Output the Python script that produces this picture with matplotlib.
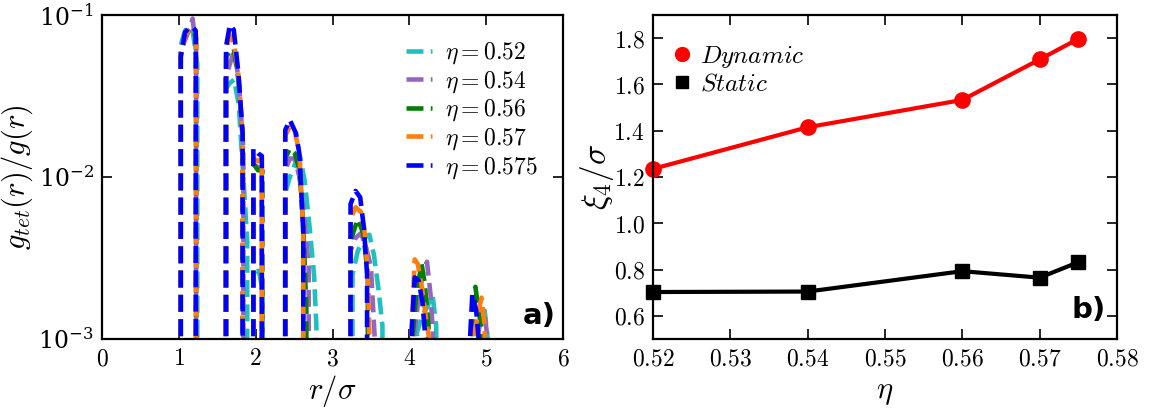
import matplotlib
matplotlib.use("Agg")
import matplotlib.pyplot as plt
from matplotlib.ticker import FixedLocator, FuncFormatter
from matplotlib.lines import Line2D

plt.rcParams['mathtext.fontset'] = 'cm'
plt.rcParams['font.family'] = ['DejaVu Serif']

# ---------------- panel a) data : g_tet(r)/g(r) ----------------
labels_a = [r'$\eta = 0.52$', r'$\eta = 0.54$', r'$\eta = 0.56$', r'$\eta = 0.57$', r'$\eta = 0.575$']
colors_a = ['#1fc0c0', '#9467bd', 'green', '#ff7f0e', 'blue']

r_052 = [1.02, 1.025, 1.08, 1.13, 1.18, 1.24, 1.245,
         1.60, 1.605, 1.665, 1.72, 1.78, 1.84, 1.89, 1.90,
         1.965, 1.97, 2.03, 2.09, 2.10,
         2.38, 2.385, 2.445, 2.51, 2.58, 2.64, 2.70, 2.76, 2.79, 2.80,
         3.255, 3.26, 3.33, 3.41, 3.48, 3.54, 3.60, 3.65, 3.66,
         4.095, 4.10, 4.17, 4.24, 4.30, 4.35, 4.36,
         4.875, 4.88, 4.93, 4.98, 5.02, 5.03]
g_052 = [0, 0.065, 0.080, 0.085, 0.080, 0.050, 0,
         0, 0.035, 0.038, 0.040, 0.028, 0.010, 0.004, 0,
         0, 0.0025, 0.0028, 0.0020, 0,
         0, 0.0080, 0.0100, 0.0120, 0.0133, 0.0093, 0.0050, 0.0025, 0.0012, 0,
         0, 0.0025, 0.0035, 0.0042, 0.0044, 0.0033, 0.0020, 0.0012, 0,
         0, 0.0011, 0.0014, 0.0016, 0.0019, 0.0012, 0,
         0, 0.0011, 0.0014, 0.0015, 0.0010, 0]

r_054 = [1.02, 1.025, 1.08, 1.13, 1.18, 1.225, 1.23,
         1.60, 1.605, 1.665, 1.72, 1.78, 1.84, 1.85,
         1.965, 1.97, 2.03, 2.085, 2.09,
         2.38, 2.385, 2.445, 2.51, 2.57, 2.63, 2.69, 2.70,
         3.23, 3.235, 3.30, 3.37, 3.43, 3.50, 3.55, 3.56,
         4.055, 4.06, 4.12, 4.18, 4.23, 4.28, 4.31, 4.32,
         4.875, 4.88, 4.93, 4.98, 5.02, 5.03,
         5.89, 5.895, 5.90, 5.905]
g_054 = [0, 0.060, 0.070, 0.080, 0.095, 0.060, 0,
         0, 0.040, 0.050, 0.060, 0.040, 0.015, 0,
         0, 0.0120, 0.0115, 0.0110, 0,
         0, 0.0110, 0.0130, 0.0130, 0.0100, 0.0060, 0.0028, 0,
         0, 0.0035, 0.0042, 0.0045, 0.0038, 0.0028, 0.0010, 0,
         0, 0.0010, 0.0018, 0.0026, 0.0030, 0.0018, 0.0010, 0,
         0, 0.0010, 0.0013, 0.0014, 0.0010, 0,
         0, 0.00102, 0.00102, 0]

r_056 = [1.02, 1.025, 1.08, 1.13, 1.18, 1.225, 1.23,
         1.61, 1.615, 1.665, 1.715, 1.775, 1.83, 1.835,
         1.97, 1.975, 2.03, 2.085, 2.10,
         2.38, 2.385, 2.445, 2.51, 2.57, 2.62, 2.66, 2.665,
         3.23, 3.235, 3.28, 3.33, 3.40, 3.46, 3.47,
         4.035, 4.04, 4.09, 4.16, 4.20, 4.25, 4.26,
         4.805, 4.81, 4.86, 4.90, 4.95, 4.96]
g_056 = [0, 0.058, 0.075, 0.080, 0.082, 0.072, 0,
         0, 0.055, 0.060, 0.062, 0.040, 0.018, 0,
         0, 0.0120, 0.0110, 0.0110, 0,
         0, 0.0130, 0.0150, 0.0140, 0.0110, 0.0050, 0.0015, 0,
         0, 0.0040, 0.0047, 0.0055, 0.0045, 0.0025, 0,
         0, 0.0010, 0.0019, 0.0029, 0.0022, 0.0012, 0,
         0, 0.0010, 0.0021, 0.0015, 0.0011, 0]

r_057 = [1.02, 1.025, 1.08, 1.13, 1.18, 1.225, 1.23,
         1.61, 1.615, 1.665, 1.715, 1.775, 1.83, 1.835,
         1.965, 1.97, 2.03, 2.08, 2.085,
         2.38, 2.385, 2.445, 2.51, 2.57, 2.62, 2.625,
         3.23, 3.235, 3.30, 3.37, 3.42, 3.46, 3.48, 3.485,
         4.015, 4.02, 4.07, 4.11, 4.17, 4.22, 4.26, 4.265,
         4.845, 4.85, 4.89, 4.94, 4.98, 5.00]
g_057 = [0, 0.056, 0.075, 0.080, 0.082, 0.075, 0,
         0, 0.060, 0.075, 0.068, 0.043, 0.018, 0,
         0, 0.0130, 0.0125, 0.0130, 0,
         0, 0.0180, 0.0205, 0.0190, 0.0140, 0.0045, 0,
         0, 0.0055, 0.0065, 0.0061, 0.0045, 0.0025, 0.0010, 0,
         0, 0.0009, 0.0031, 0.0029, 0.0020, 0.0013, 0.0010, 0,
         0, 0.0011, 0.0014, 0.0018, 0.0012, 0]

r_0575 = [1.02, 1.025, 1.08, 1.13, 1.17, 1.22, 1.225,
          1.61, 1.615, 1.665, 1.715, 1.775, 1.83, 1.835,
          1.965, 1.97, 2.03, 2.08, 2.085,
          2.38, 2.385, 2.445, 2.525, 2.57, 2.62, 2.625,
          3.23, 3.235, 3.30, 3.36, 3.41, 3.45, 3.455,
          4.025, 4.03, 4.07, 4.12, 4.17, 4.21, 4.22,
          4.785, 4.79, 4.82, 4.87, 4.91, 4.92]
g_0575 = [0, 0.055, 0.078, 0.083, 0.085, 0.080, 0,
          0, 0.064, 0.087, 0.081, 0.044, 0.0186, 0,
          0, 0.0150, 0.0140, 0.0135, 0,
          0, 0.0195, 0.0225, 0.0186, 0.0138, 0.0045, 0,
          0, 0.0068, 0.0082, 0.0075, 0.0048, 0.0025, 0,
          0, 0.0011, 0.0024, 0.0023, 0.0017, 0.0010, 0,
          0, 0.0010, 0.0019, 0.0015, 0.0009, 0]

series_a = [(r_052, g_052), (r_054, g_054), (r_056, g_056), (r_057, g_057), (r_0575, g_0575)]

# ---------------- panel b) data : xi_4 / sigma ----------------
eta = [0.52, 0.54, 0.56, 0.57, 0.575]
xi_dynamic = [1.235, 1.415, 1.533, 1.708, 1.797]
xi_static = [0.703, 0.705, 0.793, 0.765, 0.832]

fig = plt.figure(figsize=(11.51, 4.08), dpi=100)
ax1 = fig.add_axes([102/1151, 69/408, 461/1151, 324/408])
ax2 = fig.add_axes([653/1151, 69/408, 464/1151, 324/408])

for (r, g), c, lab in zip(series_a, colors_a, labels_a):
    ax1.plot(r, g, linestyle='--', color=c, lw=3.3, label=lab)
ax1.set_yscale('log', nonpositive='clip')
ax1.set_xlim(0, 6)
ax1.set_ylim(1e-3, 1e-1)
ax1.xaxis.set_major_locator(FixedLocator([0, 1, 2, 3, 4, 5, 6]))
ax1.xaxis.set_major_formatter(FuncFormatter(lambda v, p: r'$%d$' % v))
ax1.yaxis.set_major_locator(FixedLocator([1e-3, 1e-2, 1e-1]))
ax1.yaxis.set_minor_locator(FixedLocator([]))
ax1.set_xlabel(r'$r/\sigma$', fontsize=22, labelpad=2)
ax1.set_ylabel(r'$g_{tet}(r)/g(r)$', fontsize=22, labelpad=2)
ax1.legend(loc='upper right', bbox_to_anchor=(0.975, 0.965), frameon=False,
           fontsize=17, handlelength=1.1, handletextpad=0.55, labelspacing=0.12,
           borderaxespad=0.2)
ax1.text(0.985, 0.07, 'a)', transform=ax1.transAxes, ha='right', va='center',
         fontsize=21, fontweight='bold', family='DejaVu Sans')

ax2.plot(eta, xi_dynamic, color='red', lw=3, marker='o', markersize=11)
ax2.plot(eta, xi_static, color='black', lw=3, marker='s', markersize=10)
ax2.set_xlim(0.52, 0.58)
ax2.set_ylim(0.5, 1.9)
ax2.xaxis.set_major_locator(FixedLocator([0.52, 0.53, 0.54, 0.55, 0.56, 0.57, 0.58]))
ax2.xaxis.set_major_formatter(FuncFormatter(lambda v, p: r'$%.2f$' % v))
ax2.yaxis.set_major_locator(FixedLocator([0.6, 0.8, 1.0, 1.2, 1.4, 1.6, 1.8]))
ax2.yaxis.set_major_formatter(FuncFormatter(lambda v, p: r'$%.1f$' % v))
ax2.set_xlabel(r'$\eta$', fontsize=22, labelpad=4)
ax2.set_ylabel(r'$\xi_4/\sigma$', fontsize=24, labelpad=-2)
for line in ax2.get_lines():
    line.set_clip_on(False)
handles_b = [Line2D([], [], color='red', marker='o', markersize=10, linestyle='none'),
             Line2D([], [], color='black', marker='s', markersize=9, linestyle='none')]
ax2.legend(handles_b, [r'$\mathit{Dynamic}$', r'$\mathit{Static}$'],
           loc='upper left', bbox_to_anchor=(0.0, 0.965), frameon=False, fontsize=18,
           handlelength=0.9, handletextpad=0.3, labelspacing=0.1, borderaxespad=0.3)
ax2.text(0.975, 0.09, 'b)', transform=ax2.transAxes, ha='right', va='center',
         fontsize=21, fontweight='bold', family='DejaVu Sans')

for ax in (ax1, ax2):
    ax.tick_params(which='both', direction='in', top=True, right=True, length=7,
                   width=1.2, labelsize=17, pad=6)
    for s in ax.spines.values():
        s.set_linewidth(1.6)

fig.savefig('out.png', dpi=100)
